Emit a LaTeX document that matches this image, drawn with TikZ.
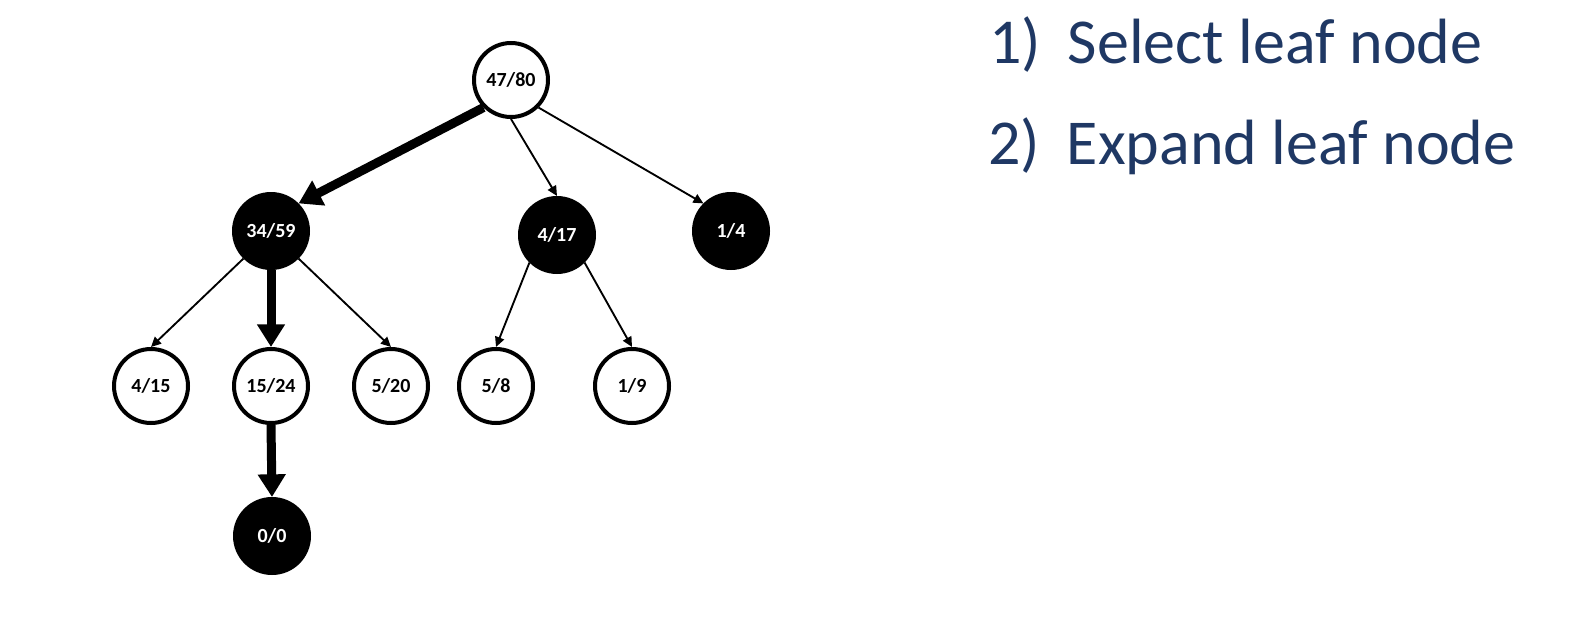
\documentclass[tikz,border=0pt]{standalone}
\usepackage{fontspec}
\setmainfont{Carlito}
\usetikzlibrary{arrows.meta}
\definecolor{navy}{RGB}{31,56,100}
\tikzset{
  tnode/.style={circle, draw=black, line width=3pt, minimum size=55.5pt, inner sep=0pt,
    font=\fontsize{15}{18}\selectfont\bfseries},
  wnode/.style={tnode, fill=white, text=black},
  bnode/.style={tnode, fill=black, text=white},
  thin edge/.style={line width=1.4pt, -{Triangle[length=7.5pt, width=7pt]}},
  thick edge/.style={line width=6.75pt, -{Triangle[length=17pt, width=20pt]}},
  step text/.style={anchor=base west, inner sep=0pt, text=navy, font=\fontsize{48}{57}\selectfont},
}
\begin{document}
\begin{tikzpicture}[x=0.75pt, y=-0.75pt]
\useasboundingbox (0,0) rectangle (1594,628);
\node[wnode] (root) at (511,80) {47/80};
\node[bnode] (a) at (271,231) {34/59};
\node[bnode] (b) at (557,235) {4/17};
\node[bnode] (c) at (731,231) {1/4};
\node[wnode] (a1) at (151,386) {4/15};
\node[wnode] (a2) at (271,386) {15/24};
\node[wnode] (a3) at (391,386) {5/20};
\node[wnode] (b1) at (496,386) {5/8};
\node[wnode] (b2) at (632,386) {1/9};
\node[bnode] (a2x) at (272,536) {0/0};

\draw[thick edge] (root.south west) -- (a.north east);
\draw[thin edge] (root.south) -- (b.north);
\draw[thin edge] (root.south east) -- (c.north west);
\draw[thin edge] (a.south west) -- (a1.north);
\draw[thick edge] (a.south) -- (a2.north);
\draw[thin edge] (a.south east) -- (a3.north);
\draw[thin edge] (b.south west) -- (b1.north);
\draw[thin edge] (b.south east) -- (b2.north);
\draw[thick edge] (a2.south) -- (a2x.north);

\node[step text] (s1) at (989,63) {\makebox[59pt][l]{1)}Select leaf node};
\node[step text] (s2) at (988,164) {\makebox[59pt][l]{2)}Expand leaf node};
\end{tikzpicture}
\end{document}
